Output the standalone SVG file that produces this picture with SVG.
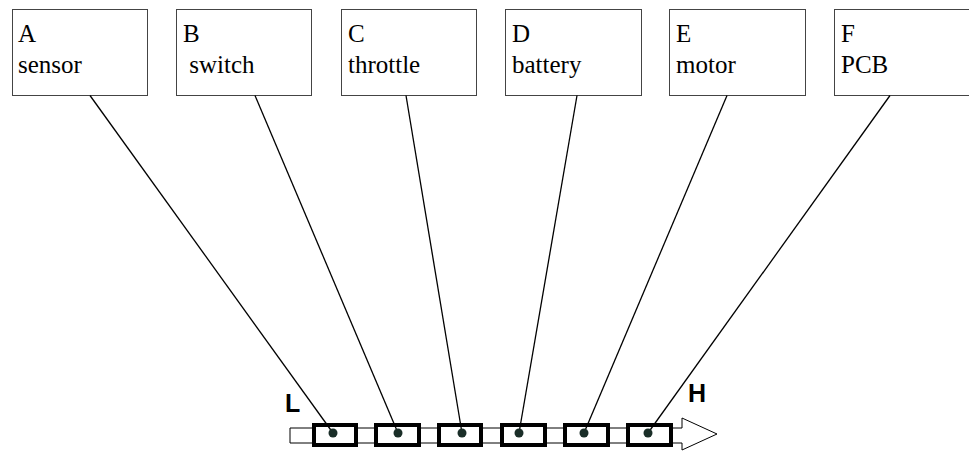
<svg xmlns="http://www.w3.org/2000/svg" width="969" height="453" viewBox="0 0 969 453">
<style>
.box{fill:#fff;stroke:#444;stroke-width:1}
.t{font-family:"Liberation Serif","Times New Roman",serif;font-size:25px;fill:#000}
.lbl{font-family:"Liberation Sans",Arial,sans-serif;font-size:25px;font-weight:bold;fill:#000}
.conn{stroke:#000;stroke-width:1.3;fill:none}
.cell{fill:#fff;stroke:#000;stroke-width:4}
.dot{fill:#1a2e28}
</style>
<rect width="969" height="453" fill="#fff"/>
<g id="arrow">
<path d="M290,428 H682 V418 L717,434 L682,450 V443 H290 Z" fill="#fff" stroke="#000" stroke-width="1"/>
</g>
<g id="nodeA"><rect class="box" x="12.5" y="9.5" width="135" height="86"/><text class="t" x="18" y="42">A</text><text class="t" x="18" y="73">sensor</text></g>
<g id="nodeB"><rect class="box" x="176.5" y="9.5" width="135" height="86"/><text class="t" x="183" y="42">B</text><text class="t" x="183" y="73" xml:space="preserve"> switch</text></g>
<g id="nodeC"><rect class="box" x="341.5" y="9.5" width="135" height="86"/><text class="t" x="348" y="42">C</text><text class="t" x="348" y="73">throttle</text></g>
<g id="nodeD"><rect class="box" x="505.5" y="9.5" width="136" height="86"/><text class="t" x="512" y="42">D</text><text class="t" x="512" y="73">battery</text></g>
<g id="nodeE"><rect class="box" x="669.5" y="9.5" width="136" height="86"/><text class="t" x="676" y="42">E</text><text class="t" x="676" y="73">motor</text></g>
<g id="nodeF"><rect class="box" x="834.5" y="9.5" width="140" height="86"/><text class="t" x="841" y="42">F</text><text class="t" x="841" y="73">PCB</text></g>
<g id="cells">
<rect class="cell" x="314" y="425" width="42" height="20"/>
<rect class="cell" x="376" y="425" width="43" height="20"/>
<rect class="cell" x="439" y="425" width="42" height="20"/>
<rect class="cell" x="502" y="425" width="43" height="20"/>
<rect class="cell" x="565" y="425" width="43" height="20"/>
<rect class="cell" x="628" y="425" width="43" height="20"/>
</g>
<g id="connectors">
<line class="conn" x1="90" y1="95.5" x2="333" y2="433"/>
<line class="conn" x1="255" y1="95.5" x2="398" y2="433"/>
<line class="conn" x1="406" y1="95.5" x2="462" y2="433"/>
<line class="conn" x1="577" y1="95.5" x2="519" y2="433"/>
<line class="conn" x1="727" y1="95.5" x2="584" y2="433"/>
<line class="conn" x1="890" y1="95.5" x2="648" y2="433"/>
</g>
<g id="dots">
<circle class="dot" cx="333" cy="433" r="4.5"/>
<circle class="dot" cx="398" cy="433" r="4.5"/>
<circle class="dot" cx="462" cy="433" r="4.5"/>
<circle class="dot" cx="519" cy="433" r="4.5"/>
<circle class="dot" cx="584" cy="433" r="4.5"/>
<circle class="dot" cx="648" cy="433" r="4.5"/>
</g>
<text class="lbl" x="285" y="412">L</text>
<text class="lbl" x="688" y="402">H</text>
</svg>
